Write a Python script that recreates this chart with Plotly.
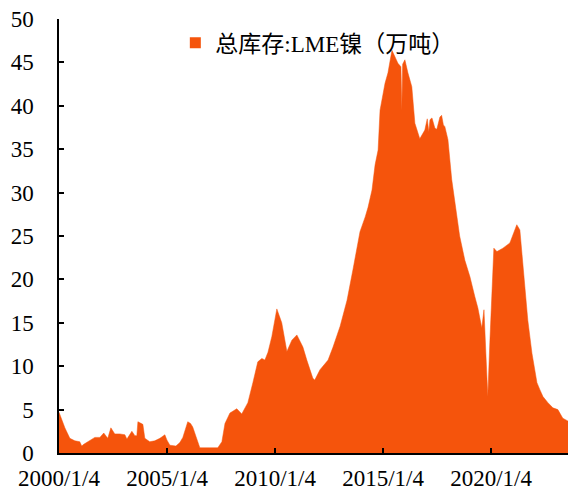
import plotly.graph_objects as go

series_name = "总库存:LME镍（万吨）"

dates = [
    "2000-01-04", "2000-04-12", "2000-07-05", "2000-09-28", "2000-12-20", "2001-01-22", "2001-02-25",
    "2001-06-10", "2001-09-01", "2001-11-25", "2002-01-30", "2002-03-15", "2002-04-08", "2002-05-30",
    "2002-08-04", "2002-10-27", "2003-01-22", "2003-02-25", "2003-05-20", "2003-07-10", "2003-08-12",
    "2003-08-30", "2003-10-20", "2003-11-22", "2003-12-25", "2004-03-17", "2004-06-10", "2004-09-06",
    "2004-11-28", "2005-01-01", "2005-02-20", "2005-06-03", "2005-08-08", "2005-09-28", "2005-12-20",
    "2006-02-05", "2006-03-14", "2006-05-22", "2006-07-12", "2006-12-28", "2007-05-12", "2007-07-20",
    "2007-09-10", "2007-12-03", "2008-03-28", "2008-06-20", "2008-10-01", "2008-12-25", "2009-03-18",
    "2009-05-26", "2009-07-16", "2009-09-06", "2009-11-10", "2010-02-03", "2010-04-27", "2010-07-23",
    "2010-10-15", "2011-01-08", "2011-04-20", "2011-06-25", "2011-10-05", "2011-11-06", "2012-02-03",
    "2012-06-18", "2012-09-10", "2013-01-08", "2013-05-05", "2013-08-15", "2013-12-10", "2014-03-08",
    "2014-04-25", "2014-07-01", "2014-08-22", "2014-10-12", "2014-11-14", "2015-02-06", "2015-03-28",
    "2015-06-03", "2015-07-24", "2015-09-12", "2015-11-02", "2015-11-17", "2015-12-01", "2016-01-08",
    "2016-02-28", "2016-05-04", "2016-06-25", "2016-09-16", "2016-12-10", "2017-01-20", "2017-02-15",
    "2017-03-07", "2017-04-10", "2017-05-30", "2017-07-01", "2017-08-22", "2017-09-20", "2017-10-20",
    "2017-11-14", "2018-01-05", "2018-03-10", "2018-06-05", "2018-07-22", "2018-10-18",
    "2019-01-12", "2019-04-05", "2019-05-26", "2019-07-31", "2019-09-06", "2019-10-08", "2019-11-10",
    "2019-12-14", "2020-01-18", "2020-02-20", "2020-04-12", "2020-07-23", "2020-11-17", "2021-01-08",
    "2021-03-14", "2021-05-05", "2021-06-25", "2021-09-16", "2021-11-25", "2022-02-18", "2022-04-08",
    "2022-05-30", "2022-08-22", "2022-11-14", "2023-02-06", "2023-05-01", "2023-07-23", "2023-10-01",
    "2023-11-22", "2023-12-10",
]

stock = [
    4.7, 2.9, 1.7, 1.4, 1.3, 0.8, 1.0,
    1.5, 1.8, 1.8, 2.3, 1.9, 1.7, 2.9,
    2.2, 2.2, 2.1, 1.6, 2.5, 2.0, 2.0,
    3.6, 3.4, 3.3, 1.7, 1.3, 1.4, 1.7,
    2.1, 1.5, 0.9, 0.8, 1.2, 1.8, 3.6,
    3.4, 3.0, 1.5, 0.6, 0.6, 0.6, 1.3,
    3.4, 4.6, 5.1, 4.5, 5.8, 8.1, 10.5,
    10.9, 10.7, 11.6, 13.4, 16.6, 15.0, 11.7,
    13.0, 13.6, 12.2, 10.7, 8.6, 8.4, 9.6,
    10.7, 12.2, 14.6, 17.6, 21.2, 25.5, 27.2,
    28.3, 30.3, 33.2, 34.9, 39.5, 42.6, 43.8,
    46.4, 45.6, 44.9, 44.5, 39.5, 44.8, 45.3,
    43.8, 42.2, 38.0, 36.2, 37.2, 38.5, 37.0,
    38.4, 38.6, 37.4, 37.3, 38.7, 38.9, 37.8,
    37.6, 36.1, 31.5, 27.6, 25.0, 22.2,
    20.3, 18.0, 16.7, 14.4, 16.5, 11.5, 6.5,
    12.7, 19.1, 23.6, 23.2, 23.6, 24.2, 25.1,
    26.3, 25.7, 21.4, 15.3, 11.5, 8.1, 7.3,
    6.5, 5.8, 5.2, 5.0, 4.0, 3.7, 4.1,
    5.0, 4.8,
]

x_tick_vals = ["2000-01-04", "2005-01-04", "2010-01-04", "2015-01-04", "2020-01-04"]
x_tick_text = ["2000/1/4", "2005/1/4", "2010/1/4", "2015/1/4", "2020/1/4"]
y_tick_vals = [0, 5, 10, 15, 20, 25, 30, 35, 40, 45, 50]

color = "#F5540C"
serif = "Liberation Serif, Times New Roman, serif"

fig = go.Figure()
fig.add_trace(go.Scatter(
    x=dates, y=stock, mode="lines", fill="tozeroy",
    line=dict(color=color, width=0.5), fillcolor=color,
    showlegend=False, hoverinfo="skip",
))
# legend entry (square swatch)
fig.add_trace(go.Scatter(
    x=[None], y=[None], mode="markers", name=series_name,
    marker=dict(symbol="square", size=11, color=color),
))

fig.update_layout(
    width=576, height=487,
    margin=dict(l=51, r=8, t=11, b=42),
    paper_bgcolor="white", plot_bgcolor="white",
    font=dict(family=serif, size=23, color="black"),
    legend=dict(
        x=0.225, y=0.945, xanchor="left", yanchor="middle",
        bgcolor="rgba(0,0,0,0)",
        font=dict(family="Liberation Serif, Noto Sans CJK SC", size=23, color="black"),
    ),
    xaxis=dict(
        range=[dates[0], dates[-1]],
        tickmode="array", tickvals=x_tick_vals, ticktext=x_tick_text,
        ticks="inside", ticklen=5, tickwidth=1.5, tickcolor="black",
        showline=True, linecolor="black", linewidth=1.5,
        showgrid=False, zeroline=False, automargin=False,
        ticklabeloverflow="allow", ticklabelstandoff=4,
        tickfont=dict(family=serif, size=23, color="black"),
    ),
    yaxis=dict(
        range=[0, 50],
        tickmode="array", tickvals=y_tick_vals,
        ticks="inside", ticklen=5, tickwidth=1.5, tickcolor="black",
        showline=True, linecolor="black", linewidth=1.5,
        showgrid=False, zeroline=False, automargin=False,
        ticklabeloverflow="allow", ticklabelstandoff=19,
        tickfont=dict(family=serif, size=23, color="black"),
    ),
)

fig.write_html("out.html")
